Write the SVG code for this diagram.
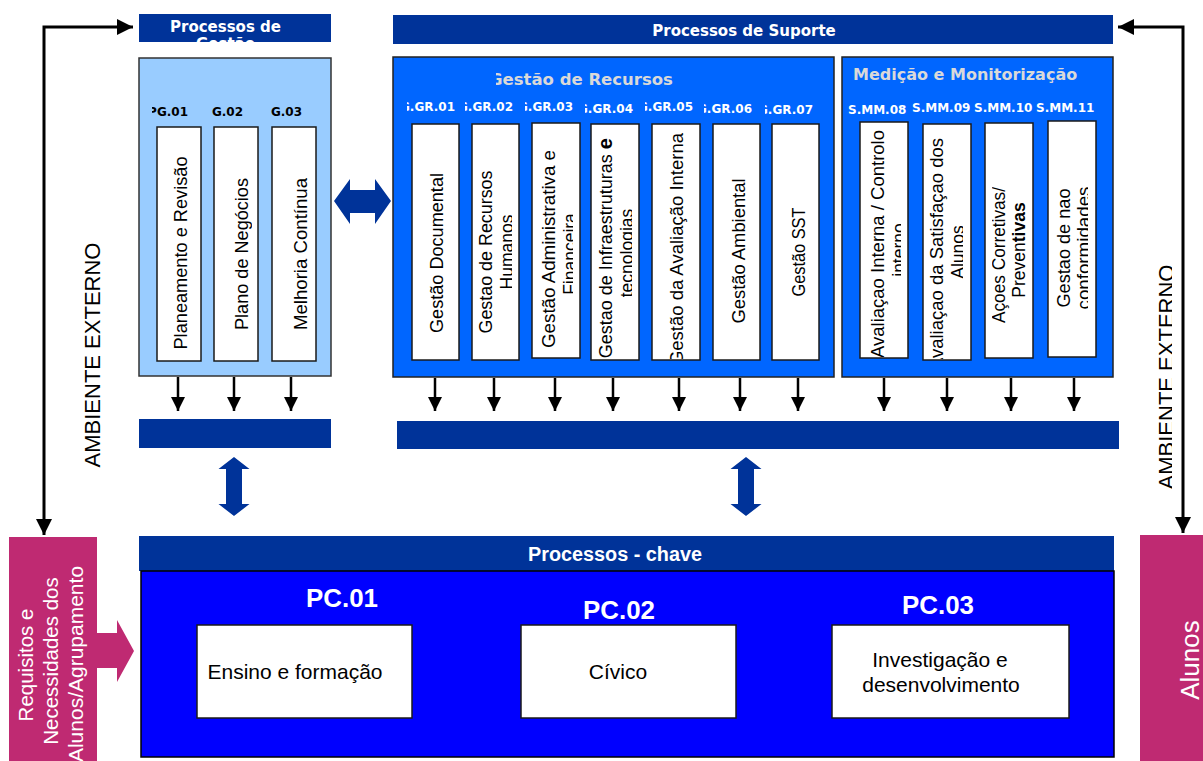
<svg xmlns="http://www.w3.org/2000/svg" width="1203" height="761" viewBox="0 0 1203 761">
<style>
.hdr{fill:#003399}
.ht{font-family:"DejaVu Sans",sans-serif;font-weight:bold;font-size:15px;fill:#fff}
.ttl{font-family:"DejaVu Sans",sans-serif;font-weight:bold;font-size:16px;fill:#D9D9D9}
.lbl{font-family:"DejaVu Sans",sans-serif;font-weight:bold;font-size:12px;fill:#fff}
.wb{fill:#fff;stroke:#1a1a1a;stroke-width:1.5}
.bt{font-family:"Liberation Sans",Arial,sans-serif;font-size:17.5px;fill:#000;text-anchor:middle}
.pt{font-family:"Liberation Sans",Arial,sans-serif;font-size:21px;fill:#000;text-anchor:middle}
.pc{font-family:"Liberation Sans",Arial,sans-serif;font-weight:bold;font-size:26px;fill:#fff}
.mg{fill:#BF2A72}
.mt{font-family:"Liberation Sans",Arial,sans-serif;font-size:20.5px;fill:#fff;text-anchor:middle}
.amb{font-family:"Liberation Sans",Arial,sans-serif;font-size:22px;fill:#000;text-anchor:middle}
.dbl{fill:#003399}
.ext{fill:none;stroke:#000;stroke-width:3}
.sa{stroke:#000;stroke-width:2.5}
</style>
<defs>
<marker id="ah" viewBox="0 0 10 10" refX="10" refY="5" markerWidth="16" markerHeight="16" markerUnits="userSpaceOnUse" orient="auto-start-reverse"><path d="M0,0 L10,5 L0,10 z" fill="#000"/></marker>
<marker id="sh" viewBox="0 0 10 10" refX="10" refY="5" markerWidth="14" markerHeight="14" markerUnits="userSpaceOnUse" orient="auto"><path d="M0,0 L10,5 L0,10 z" fill="#000"/></marker>
<clipPath id="cHG"><rect x="139" y="14" width="192" height="28"/></clipPath>
<clipPath id="cGRT"><rect x="496" y="58" width="337" height="40"/></clipPath>
<clipPath id="cPG1"><rect x="152" y="95" width="40" height="25"/></clipPath>
<clipPath id="cL1"><rect x="407" y="95" width="50" height="25"/></clipPath>
<clipPath id="cL2"><rect x="465" y="95" width="50" height="25"/></clipPath>
<clipPath id="cL3"><rect x="525" y="95" width="50" height="25"/></clipPath>
<clipPath id="cL4"><rect x="585" y="95" width="50" height="25"/></clipPath>
<clipPath id="cL5"><rect x="645" y="95" width="50" height="25"/></clipPath>
<clipPath id="cL6"><rect x="704" y="95" width="50" height="25"/></clipPath>
<clipPath id="cL7"><rect x="765" y="95" width="50" height="25"/></clipPath>
<clipPath id="cG1"><rect x="160" y="128" width="35" height="232"/></clipPath>
<clipPath id="cG2"><rect x="217" y="128" width="35" height="232"/></clipPath>
<clipPath id="cG3"><rect x="275" y="128" width="35" height="232"/></clipPath>
<clipPath id="cR1"><rect x="415" y="125" width="37" height="234"/></clipPath>
<clipPath id="cR2"><rect x="475" y="125" width="37" height="234"/></clipPath>
<clipPath id="cR3"><rect x="535" y="124" width="38" height="233"/></clipPath>
<clipPath id="cR4"><rect x="594" y="125" width="38" height="234"/></clipPath>
<clipPath id="cR5"><rect x="655" y="125" width="38" height="234"/></clipPath>
<clipPath id="cR6"><rect x="716" y="125" width="37" height="234"/></clipPath>
<clipPath id="cR7"><rect x="775" y="125" width="37" height="234"/></clipPath>
<clipPath id="cM8"><rect x="863" y="123" width="38" height="234"/></clipPath>
<clipPath id="cM9"><rect x="926" y="125" width="37" height="234"/></clipPath>
<clipPath id="cM10"><rect x="992" y="124" width="35" height="233"/></clipPath>
<clipPath id="cM11"><rect x="1051" y="122" width="37" height="234"/></clipPath>
<clipPath id="cAR"><rect x="1120" y="200" width="52" height="320"/></clipPath>
</defs>

<g id="connectors">
<path class="ext" d="M133,27 L44,27 L44,535" marker-start="url(#ah)" marker-end="url(#ah)"/>
<path class="ext" d="M1118,27 L1183,27 L1183,533" marker-start="url(#ah)" marker-end="url(#ah)"/>
<line class="sa" x1="178" y1="377" x2="178" y2="411" marker-end="url(#sh)"/>
<line class="sa" x1="234" y1="377" x2="234" y2="411" marker-end="url(#sh)"/>
<line class="sa" x1="291" y1="377" x2="291" y2="411" marker-end="url(#sh)"/>
<line class="sa" x1="435" y1="378" x2="435" y2="411" marker-end="url(#sh)"/>
<line class="sa" x1="494" y1="378" x2="494" y2="411" marker-end="url(#sh)"/>
<line class="sa" x1="555" y1="378" x2="555" y2="411" marker-end="url(#sh)"/>
<line class="sa" x1="613" y1="378" x2="613" y2="411" marker-end="url(#sh)"/>
<line class="sa" x1="679" y1="378" x2="679" y2="411" marker-end="url(#sh)"/>
<line class="sa" x1="740" y1="378" x2="740" y2="411" marker-end="url(#sh)"/>
<line class="sa" x1="798" y1="378" x2="798" y2="411" marker-end="url(#sh)"/>
<line class="sa" x1="884" y1="378" x2="884" y2="411" marker-end="url(#sh)"/>
<line class="sa" x1="947" y1="378" x2="947" y2="411" marker-end="url(#sh)"/>
<line class="sa" x1="1011" y1="378" x2="1011" y2="411" marker-end="url(#sh)"/>
<line class="sa" x1="1074" y1="378" x2="1074" y2="411" marker-end="url(#sh)"/>
<polygon class="dbl" points="334,201 350,179 350,190 375,190 375,179 391,201 375,224 375,213 350,213 350,224"/>
<polygon class="dbl" points="234,457 249.5,469 242,469 242,504 249.5,504 234,516 218.5,504 226,504 226,469 218.5,469"/>
<polygon class="dbl" points="746,457 761.5,469 754,469 754,504 761.5,504 746,516 730.5,504 738,504 738,469 730.5,469"/>
<polygon class="mg" points="95,633 117,633 117,620 134,651 117,682 117,668 95,668"/>
</g>

<g id="ambiente-left">
<text class="amb" transform="translate(100,355) rotate(-90)">AMBIENTE EXTERNO</text>
</g>
<g id="ambiente-right" clip-path="url(#cAR)">
<text class="amb" transform="translate(1174,377) rotate(-90)">AMBIENTE EXTERNO</text>
</g>

<g id="processos-gestao">
<rect class="hdr" x="139" y="14" width="192" height="28"/>
<g clip-path="url(#cHG)">
<text class="ht" x="225.5" y="32" text-anchor="middle">Processos de</text>
<text class="ht" x="225.5" y="49" text-anchor="middle">Gestão</text>
</g>
<rect x="139" y="58" width="192" height="318" fill="#99CCFF" stroke="#333" stroke-width="1.5"/>
<g clip-path="url(#cPG1)"><text class="lbl" x="188" y="116" style="fill:#000" text-anchor="end">PG.01</text></g>
<text class="lbl" x="243" y="116" style="fill:#000" text-anchor="end">G.02</text>
<text class="lbl" x="302" y="116" style="fill:#000" text-anchor="end">G.03</text>
<rect class="wb" x="157" y="127" width="44" height="234"/>
<rect class="wb" x="214" y="127" width="44" height="234"/>
<rect class="wb" x="272" y="127" width="44" height="234"/>
<g clip-path="url(#cG1)"><text class="bt" textLength="193" lengthAdjust="spacingAndGlyphs" transform="translate(187,253) rotate(-90)" style="font-size:18px">Planeamento e Revisão</text></g>
<g clip-path="url(#cG2)"><text class="bt" textLength="152" lengthAdjust="spacingAndGlyphs" transform="translate(248,254) rotate(-90)" style="font-size:18px">Plano de Negócios</text></g>
<g clip-path="url(#cG3)"><text class="bt" textLength="152" lengthAdjust="spacingAndGlyphs" transform="translate(307,254) rotate(-90)" style="font-size:18px">Melhoria Contínua</text></g>
<rect class="hdr" x="139" y="419" width="192" height="29"/>
</g>

<g id="processos-suporte">
<rect class="hdr" x="393" y="15" width="720" height="29"/>
<text class="ht" x="744" y="36" text-anchor="middle">Processos de Suporte</text>
</g>

<g id="gestao-recursos">
<rect x="393" y="57" width="441" height="320" fill="#0066FF" stroke="#222" stroke-width="1.5"/>
<g clip-path="url(#cGRT)"><text class="ttl" x="489" y="85" style="font-size:16.5px">Gestão de Recursos</text></g>
<g clip-path="url(#cL1)"><text class="lbl" x="455" y="111" text-anchor="end">G.GR.01</text></g>
<g clip-path="url(#cL2)"><text class="lbl" x="513" y="111" text-anchor="end">G.GR.02</text></g>
<g clip-path="url(#cL3)"><text class="lbl" x="573" y="111" text-anchor="end">G.GR.03</text></g>
<g clip-path="url(#cL4)"><text class="lbl" x="633" y="113" text-anchor="end">G.GR.04</text></g>
<g clip-path="url(#cL5)"><text class="lbl" x="693" y="111" text-anchor="end">G.GR.05</text></g>
<g clip-path="url(#cL6)"><text class="lbl" x="752" y="113" text-anchor="end">G.GR.06</text></g>
<g clip-path="url(#cL7)"><text class="lbl" x="813" y="114" text-anchor="end">G.GR.07</text></g>
<rect class="wb" x="412" y="124" width="47" height="236"/>
<rect class="wb" x="472" y="124" width="47" height="236"/>
<rect class="wb" x="532" y="123" width="48" height="235"/>
<rect class="wb" x="591" y="124" width="48" height="236"/>
<rect class="wb" x="652" y="124" width="48" height="236"/>
<rect class="wb" x="713" y="124" width="47" height="236"/>
<rect class="wb" x="772" y="124" width="47" height="236"/>
<g clip-path="url(#cR1)"><text class="bt" textLength="160" lengthAdjust="spacingAndGlyphs" transform="translate(443,253) rotate(-90)">Gestão Documental</text></g>
<g clip-path="url(#cR2)">
<text class="bt" textLength="163" lengthAdjust="spacingAndGlyphs" transform="translate(492,252) rotate(-90)">Gestao de Recursos</text>
<text class="bt" transform="translate(513,252) rotate(-90)">Humanos</text>
</g>
<g clip-path="url(#cR3)">
<text class="bt" textLength="198" lengthAdjust="spacingAndGlyphs" transform="translate(555,249) rotate(-90)">Gestão Administrativa e</text>
<text class="bt" transform="translate(576,254) rotate(-90)">Financeira</text>
</g>
<g clip-path="url(#cR4)">
<text class="bt" transform="translate(612,138) rotate(-90)" style="text-anchor:end;font-size:18px">Gestao de Infraestruturas <tspan font-weight="bold" style="font-size:20px">e</tspan></text>
<text class="bt" transform="translate(633,253) rotate(-90)">tecnologias</text>
</g>
<g clip-path="url(#cR5)"><text class="bt" transform="translate(683,133) rotate(-90)" style="text-anchor:end;font-size:18.5px">Gestão da Avaliação Interna</text></g>
<g clip-path="url(#cR6)"><text class="bt" textLength="145" lengthAdjust="spacingAndGlyphs" transform="translate(745,251) rotate(-90)">Gestão Ambiental</text></g>
<g clip-path="url(#cR7)"><text class="bt" textLength="89" lengthAdjust="spacingAndGlyphs" transform="translate(805,252) rotate(-90)">Gestão SST</text></g>
<rect class="hdr" x="397" y="421" width="722" height="28"/>
</g>

<g id="medicao-monitorizacao">
<rect x="842" y="57" width="271" height="320" fill="#0066FF" stroke="#222" stroke-width="1.5"/>
<text class="ttl" x="853" y="80">Medição e Monitorização</text>
<text class="lbl" x="848" y="114">S.MM.08</text>
<text class="lbl" x="912" y="112">S.MM.09</text>
<text class="lbl" x="974" y="112">S.MM.10</text>
<text class="lbl" x="1036" y="112">S.MM.11</text>
<rect class="wb" x="860" y="122" width="48" height="236"/>
<rect class="wb" x="923" y="124" width="48" height="236"/>
<rect class="wb" x="985" y="123" width="48" height="235"/>
<rect class="wb" x="1048" y="121" width="48" height="236"/>
<g clip-path="url(#cM8)">
<text class="bt" transform="translate(884,130) rotate(-90)" style="text-anchor:end;font-size:18.5px">Avaliaçao Interna / Controlo</text>
<text class="bt" transform="translate(905,250) rotate(-90)">interno</text>
</g>
<g clip-path="url(#cM9)">
<text class="bt" transform="translate(943,138) rotate(-90)" style="text-anchor:end;font-size:18.5px">Avaliaçao da Satisfaçao dos</text>
<text class="bt" transform="translate(964,252) rotate(-90)">Alunos</text>
</g>
<g clip-path="url(#cM10)">
<text class="bt" textLength="136" lengthAdjust="spacingAndGlyphs" transform="translate(1005,255) rotate(-90)">Açoes Corretivas/</text>
<text class="bt" transform="translate(1025,250) rotate(-90)">Preven<tspan font-weight="bold">tivas</tspan></text>
</g>
<g clip-path="url(#cM11)">
<text class="bt" textLength="119" lengthAdjust="spacingAndGlyphs" transform="translate(1070,248) rotate(-90)">Gestao de nao</text>
<text class="bt" textLength="123" lengthAdjust="spacingAndGlyphs" transform="translate(1090,248) rotate(-90)">conformidades</text>
</g>
</g>

<g id="processos-chave">
<rect class="hdr" x="139" y="536" width="975" height="35"/>
<text x="615" y="561" text-anchor="middle" textLength="174" lengthAdjust="spacingAndGlyphs" style="font-family:'Liberation Sans',Arial,sans-serif;font-weight:bold;font-size:20px;fill:#fff">Processos - chave</text>
<rect x="141" y="571" width="973" height="186" fill="#0000FF" stroke="#000" stroke-width="1.5"/>
</g>

<g id="pc01">
<text class="pc" x="306" y="607" textLength="72" lengthAdjust="spacingAndGlyphs">PC.01</text>
<rect class="wb" x="197" y="625" width="215" height="93"/>
<text class="pt" x="295" y="679" textLength="175" lengthAdjust="spacingAndGlyphs">Ensino e formação</text>
</g>
<g id="pc02">
<text class="pc" x="583" y="619" textLength="72" lengthAdjust="spacingAndGlyphs">PC.02</text>
<rect class="wb" x="521" y="625" width="215" height="93"/>
<text class="pt" x="618" y="679">Cívico</text>
</g>
<g id="pc03">
<text class="pc" x="902" y="614" textLength="72" lengthAdjust="spacingAndGlyphs">PC.03</text>
<rect class="wb" x="832" y="625" width="237" height="93"/>
<text class="pt" x="940" y="667">Investigação e</text>
<text class="pt" x="941" y="692">desenvolvimento</text>
</g>

<g id="requisitos">
<rect class="mg" x="9" y="537" width="88" height="224"/>
<text class="mt" transform="translate(33,665) rotate(-90)">Requisitos e</text>
<text class="mt" transform="translate(58,661) rotate(-90)">Necessidades dos</text>
<text class="mt" transform="translate(83,664) rotate(-90)" style="font-size:21px">Alunos/Agrupamento</text>
</g>

<g id="alunos">
<rect class="mg" x="1140" y="535" width="63" height="226"/>
<text class="mt" transform="translate(1199,660) rotate(-90)" style="font-size:26px">Alunos</text>
</g>
</svg>
